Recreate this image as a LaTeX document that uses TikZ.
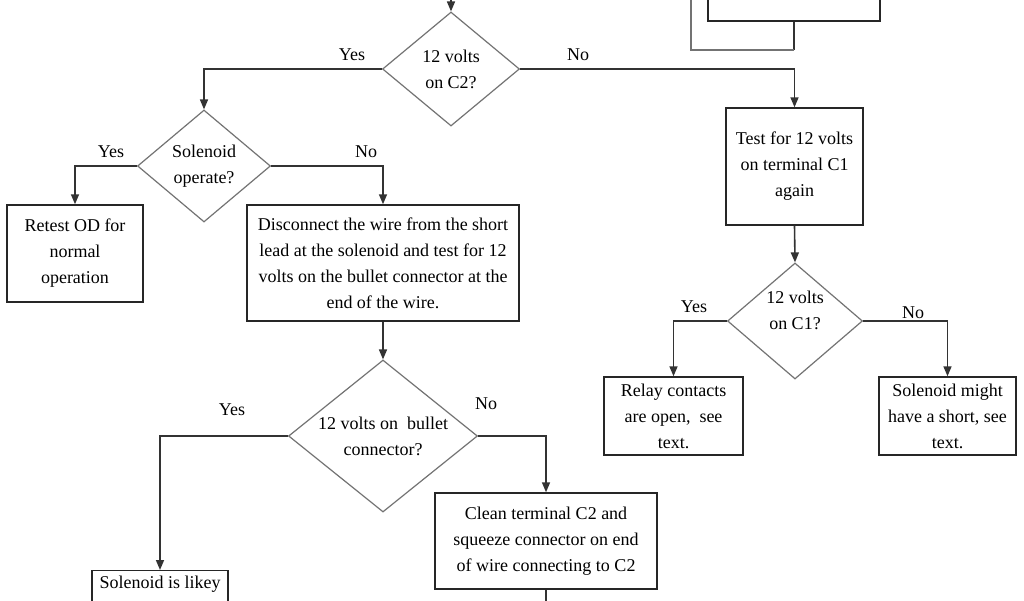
\documentclass[tikz,border=0pt]{standalone}
\usepackage{fontspec}
\setmainfont{Liberation Serif}
\usetikzlibrary{shapes.geometric,arrows.meta}
\tikzset{
  txt/.style={font=\fontsize{13.5pt}{19.5pt}\selectfont, align=center, text=black},
  box/.style={draw=black!85, line width=1.1pt, rectangle, inner sep=2pt, txt},
  dia/.style={draw=black!55, line width=0.9pt, diamond, inner sep=0pt},
  conn/.style={draw=black!80, line width=1.2pt},
  arr/.style={conn, -{Triangle[length=7.5pt,width=6pt]}},
  lbl/.style={txt}
}
\begin{document}
\begin{tikzpicture}[x=0.75pt,y=-0.75pt]
\useasboundingbox (0,0) rectangle (1024,600);
\clip (0,0) rectangle (1024,600);
\fill[white] (0,0) rectangle (1024,600);

% partial box at top right
\node[box, minimum width=129pt, minimum height=61.5pt] (pbox) at (794,-20) {};
\coordinate (pup) at (691,-5);
\coordinate (pcorner) at (794,50);
\draw[conn] (pbox.south) -- (pcorner);
\draw[conn, draw=black!55, line width=1.4pt] (pcorner) -| (pup);

% diamonds
\node[dia, minimum width=102.75pt, minimum height=85.5pt,
  label={[txt]center:12 volts\\on C2?}] (d1) at (451,69) {};
\node[dia, minimum width=99.75pt, minimum height=84pt,
  label={[txt]center:Solenoid\\operate?}] (d2) at (204,166) {};
\node[dia, minimum width=141.75pt, minimum height=114pt,
  label={[txt]center:12 volts on\ \ bullet\\connector?}] (d3) at (383,436) {};
\node[dia, minimum width=101.25pt, minimum height=87pt,
  label={[txt,yshift=8pt]center:12 volts\\on C1?}] (d4) at (795,321) {};

% boxes
\node[box, minimum width=102pt, minimum height=72.75pt] (retest) at (75,253.5)
  {Retest OD for\\normal\\operation};
\node[box, minimum width=204pt, minimum height=87pt] (disc) at (383,263)
  {Disconnect the wire from the short\\lead at the solenoid and test for 12\\volts on the bullet connector at the\\end of the wire.};
\node[box, minimum width=102.75pt, minimum height=87.75pt] (t1) at (794.5,166.5)
  {Test for 12 volts\\on terminal C1\\again};
\node[box, minimum width=104.25pt, minimum height=58.5pt] (relay) at (673.5,416)
  {Relay contacts\\are open,\ \ see\\text.};
\node[box, minimum width=102.75pt, minimum height=58.5pt] (short) at (947.5,416)
  {Solenoid might\\have a short, see\\text.};
\node[box, minimum width=166.5pt, minimum height=72pt] (clean) at (546,541)
  {Clean terminal C2 and\\squeeze connector on end\\of wire connecting to C2};
\node[box, minimum width=102pt, minimum height=67.5pt, anchor=north,
  label={[txt,anchor=north,yshift=-1pt]north:Solenoid is likey}] (likey) at (160,570) {};

% connectors
\coordinate (top) at (451,-5);
\coordinate (cend) at (546,610);
\draw[arr] (top) -- (d1.north);
\draw[arr] (d1.west) -| (d2.north);
\draw[arr] (d1.east) -| (t1.north);
\draw[arr] (d2.west) -| (retest.north);
\draw[arr] (d2.east) -| (disc.north);
\draw[arr] (disc.south) -- (d3.north);
\draw[arr] (d3.west) -| (likey.north);
\draw[arr] (d3.east) -| (clean.north);
\draw[conn] (clean.south) -- (cend);
\draw[arr] (t1.south) -- (d4.north);
\draw[arr] (d4.west) -| (relay.north);
\draw[arr] (d4.east) -| (short.north);

% labels
\node[lbl] (y1) at (352,55) {Yes};
\node[lbl] (n1) at (578,55) {No};
\node[lbl] (y2) at (111,152) {Yes};
\node[lbl] (n2) at (366,152) {No};
\node[lbl] (y3) at (232,410) {Yes};
\node[lbl] (n3) at (486,404) {No};
\node[lbl] (y4) at (694,307) {Yes};
\node[lbl] (n4) at (913,313) {No};
\end{tikzpicture}
\end{document}
